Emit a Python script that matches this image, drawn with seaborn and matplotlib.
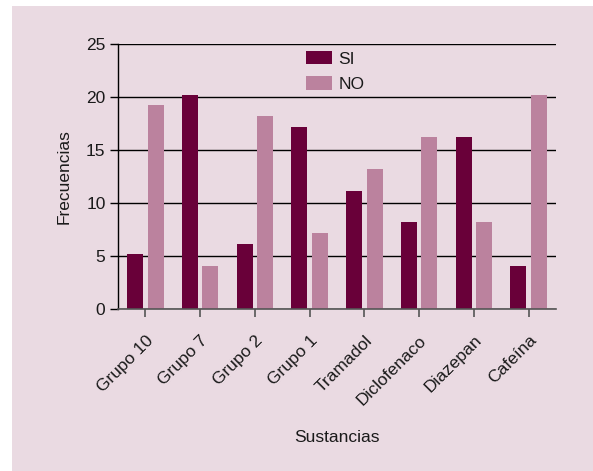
import matplotlib
matplotlib.use("Agg")
import matplotlib.pyplot as plt
from matplotlib.patches import Rectangle
import seaborn as sns
import pandas as pd

categories = ["Grupo 10", "Grupo 7", "Grupo 2", "Grupo 1", "Tramadol",
              "Diclofenaco", "Diazepan", "Cafeína"]
si_values = [5.2, 20.2, 6.1, 17.2, 11.1, 8.2, 16.2, 4.1]
no_values = [19.2, 4.1, 18.2, 7.2, 13.2, 16.2, 8.2, 20.2]
series_names = ["SI", "NO"]
y_ticks = [0, 5, 10, 15, 20, 25]

SI_COLOR = "#690039"
NO_COLOR = "#BB829E"
BG = "#EADAE2"

sns.set_style("white")
plt.rcParams["font.family"] = ["Liberation Sans", "DejaVu Sans"]

df = pd.DataFrame({
    "Sustancia": categories * 2,
    "Frecuencia": si_values + no_values,
    "Respuesta": [series_names[0]] * len(categories) + [series_names[1]] * len(categories),
})

fig = plt.figure(figsize=(5.93, 4.71), dpi=100, facecolor="white")
bg = Rectangle((12 / 593, 0), 1 - 12 / 593, 1 - 6 / 471,
               transform=fig.transFigure, facecolor=BG,
               edgecolor="none", zorder=-10)
fig.patches.append(bg)
ax = fig.add_axes([118 / 593, 1 - 309 / 471, 438 / 593, 265 / 471])
ax.set_zorder(5)
ax.set_facecolor("none")

sns.barplot(data=df, x="Sustancia", y="Frecuencia", hue="Respuesta",
            order=categories, hue_order=series_names,
            palette={"SI": SI_COLOR, "NO": NO_COLOR},
            width=0.756, gap=0.228, errorbar=None, saturation=1,
            linewidth=0, ax=ax)

ax.set_xlim(-0.5, len(categories) - 0.5)
ax.set_ylim(0, 25)
ax.set_yticks(y_ticks)
ax.set_axisbelow(True)
ax.yaxis.grid(True, color="black", linewidth=1.0)
ax.xaxis.grid(False)

for s in ["top", "right"]:
    ax.spines[s].set_visible(False)
ax.spines["left"].set_color("black")
ax.spines["left"].set_linewidth(1.0)
ax.spines["bottom"].set_color("#555555")
ax.spines["bottom"].set_linewidth(1.2)

ax.tick_params(axis="y", direction="out", length=6, width=1, color="black",
               labelsize=12.5, labelcolor="#1a1a1a", pad=3, left=True)
ax.tick_params(axis="x", direction="out", length=6, width=1.2, color="#555555",
               labelsize=12.5, labelcolor="#1a1a1a", pad=11, bottom=True)
ax.set_xticks(range(len(categories)))
ax.set_xticklabels(categories, rotation=45, ha="right", rotation_mode="anchor")

ax.set_xlabel("Sustancias", fontsize=12.5, color="#1a1a1a", labelpad=16)
ax.set_ylabel("Frecuencias", fontsize=12.5, color="#1a1a1a", labelpad=10)

leg = ax.legend(loc="upper left", bbox_to_anchor=(0.43, 0.975), frameon=False,
                fontsize=12.5, handlelength=1.5, handleheight=0.85,
                labelspacing=0.53, handletextpad=0.35, borderpad=0,
                borderaxespad=0)
for t in leg.get_texts():
    t.set_color("#1a1a1a")

fig.savefig("out.png", dpi=100, facecolor=fig.get_facecolor())
